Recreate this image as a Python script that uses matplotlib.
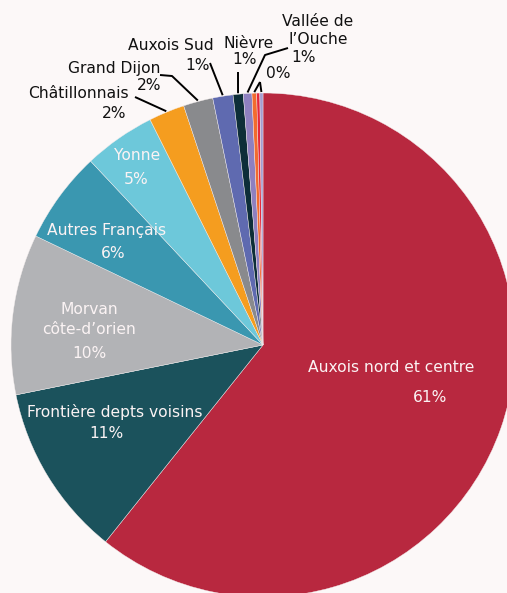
import numpy as np
import matplotlib
matplotlib.use("Agg")
import matplotlib.pyplot as plt

# shares in %, clockwise from 12 o'clock
labels = ["Auxois nord et centre", "Frontière depts voisins", "Morvan\ncôte-d’orien",
          "Autres Français", "Yonne", "Châtillonnais", "Grand Dijon", "Auxois Sud",
          "Nièvre", "Vallée de\nl’Ouche", "autre a", "autre b", "autre c"]
values = [60.8, 11.1, 10.3, 5.9, 4.6, 2.3, 1.9, 1.3, 0.65, 0.55, 0.3, 0.2, 0.2]
colors = ["#b8283f", "#1b525c", "#b2b3b6", "#3a97b0", "#6dc8da", "#f59d1f",
          "#898a8d", "#5f6ab0", "#0d2e38", "#8e80c0", "#f26b2e", "#e5283c", "#a49dd1"]

W, H = 507, 593
bg = "#fcf8f8"
fig = plt.figure(figsize=(W / 100, H / 100), dpi=100, facecolor=bg)
ax = fig.add_axes([0, 0, 1, 1])
ax.set_facecolor(bg)

cx, cy, R = 263, H - 345, 252
wedges, _ = ax.pie(values, colors=colors, startangle=90, counterclock=False,
                   center=(cx, cy), radius=R, frame=True,
                   wedgeprops=dict(edgecolor="#f4eeee", linewidth=0.3))
ax.set_xlim(0, W)
ax.set_ylim(0, H)
ax.set_aspect("equal")
ax.axis("off")

def pct(v):
    return f"{round(v):d}%"

def px(x, y):
    return x, H - y

# labels inside the big slices (pixel positions from top-left)
fs = 11.2
inside = {
    0: [(391, 368, labels[0]), (430, 398, pct(values[0]))],
    1: [(115, 412, labels[1]), (106, 434, pct(values[1]))],
    2: [(89, 310, "Morvan"), (89, 330, "côte-d’orien"), (89, 353, pct(values[2]))],
    3: [(107, 230, labels[3]), (113, 253, pct(values[3]))],
    4: [(137, 155, labels[4]), (136, 179, pct(values[4]))],
}
for i, items in inside.items():
    for x, y, t in items:
        ax.text(*px(x, y), t, color="#fbf3f4", fontsize=fs, ha="center", va="center")

# labels outside with leader lines
outside = {
    5: [(78, 94, labels[5]), (114, 113, pct(values[5]))],
    6: [(114, 68, labels[6]), (149, 85, pct(values[6]))],
    7: [(171, 46, labels[7]), (198, 66, pct(values[7]))],
    8: [(249, 43, labels[8]), (245, 60, pct(values[8]))],
    9: [(318, 21, "Vallée de"), (318, 40, "l’Ouche"), (304, 57, pct(values[9]))],
    10: [(278, 73, pct(values[10]))],
}
for i, items in outside.items():
    for x, y, t in items:
        ax.text(*px(x, y), t, color="#111111", fontsize=fs, ha="center", va="center")

def edge_point(i, r=R):
    w = wedges[i]
    th = np.deg2rad((w.theta1 + w.theta2) / 2)
    return cx + r * np.cos(th), cy + r * np.sin(th)

leaders = {
    5: [px(135, 97)],
    6: [px(160, 75), px(172, 76)],
    7: [px(210, 63)],
    8: [px(238, 72)],
    9: [px(288, 48), px(265, 55)],
    10: [px(260, 82)],
    12: [px(260, 82)],
}
for i, pts in leaders.items():
    ex, ey = edge_point(i, R + 1)
    xs = [p[0] for p in pts] + [ex]
    ys = [p[1] for p in pts] + [ey]
    ax.plot(xs, ys, color="black", lw=1.4, solid_capstyle="butt")

fig.savefig("out.png", dpi=100, facecolor=bg)
